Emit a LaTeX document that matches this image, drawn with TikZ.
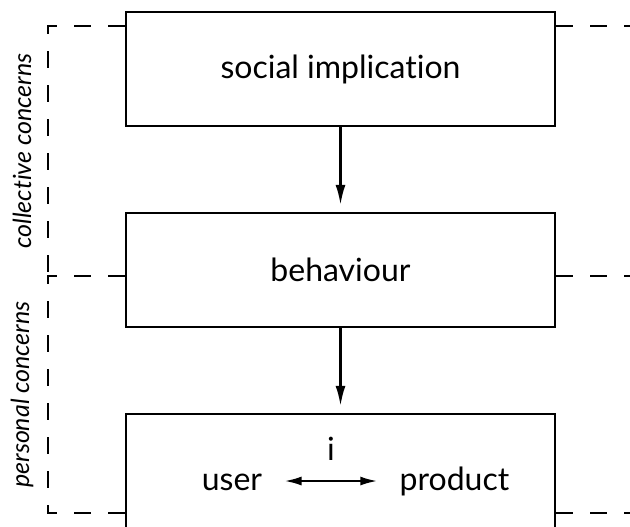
\documentclass[tikz,border=0pt]{standalone}
\usepackage{fontspec}
\setmainfont{Lato}[Ligatures={NoCommon}]
\usepackage{tikz}
\usetikzlibrary{arrows.meta,positioning,calc}

\begin{document}
\begin{tikzpicture}[x=0.5pt,y=-0.5pt,
  kasten/.style={draw,line width=1.2pt,minimum width=214.5pt,minimum height=57pt,inner sep=0pt,font=\fontsize{16}{18}\selectfont},
  wort/.style={inner ysep=0pt,inner xsep=11pt,text height=9pt,text depth=0pt,font=\fontsize{16}{18}\selectfont},
  grenze/.style={line width=1.3pt,dash pattern=on 8.5pt off 8.5pt},
  pfeil/.style={line width=1.1pt,shorten >=3.5pt,-{Latex[length=10pt,width=5pt]}},
  doppel/.style={line width=1.1pt,{Latex[length=8.5pt,width=4.5pt]}-{Latex[length=8.5pt,width=4.5pt]}},
  seite/.style={rotate=90,font=\itshape\fontsize{12.5}{14}\selectfont}]
%Masse in Pixeln des Bildes (630 x 526), 1 px = 0.5 pt
  \pgfmathsetmacro{\xL}{48}
  \pgfmathsetmacro{\xR}{630}
  \pgfmathsetmacro{\xM}{340.5}
\useasboundingbox (0,0) rectangle (\xR,526);
\node[kasten] (sozial) at (\xM,69) {social implication};
\node[kasten] (verhalten) at (\xM,270) {behaviour};
\node[kasten] (nutzung) at (\xM,471) {};
\node[wort] (nutzer) at (232,481) {user};
\node[wort] (produkt) at (454.5,481) {product};
\draw[pfeil] (sozial) -- (verhalten);
\draw[pfeil] (verhalten) -- (nutzung);
\draw[doppel] (nutzer) -- node[above=9.5pt,inner sep=0pt,font=\fontsize{16}{18}\selectfont] {i} (produkt);
%gestrichelte Grenzen
\coordinate (gO) at (\xL,26);
\coordinate (gM) at (\xL,276);
\coordinate (gU) at (\xL,513);
\draw[grenze] (sozial.west |- gO) -- (gO) -- (gM);
\draw[grenze] (verhalten.west |- gM) -- (gM) -- (gU) -- (nutzung.west |- gU);
\foreach \g in {gO,gM,gU}{
\draw[grenze] (sozial.east |- \g) -- (\xR,0 |- \g);
}
\node[seite] (kollektiv) at ($(gO)!.5!(gM)+(-26,0)$) {collective concerns};
\node[seite] (persoenlich) at ($(gM)!.5!(gU)+(-26,0)$) {personal concerns};
\end{tikzpicture}
\end{document}
